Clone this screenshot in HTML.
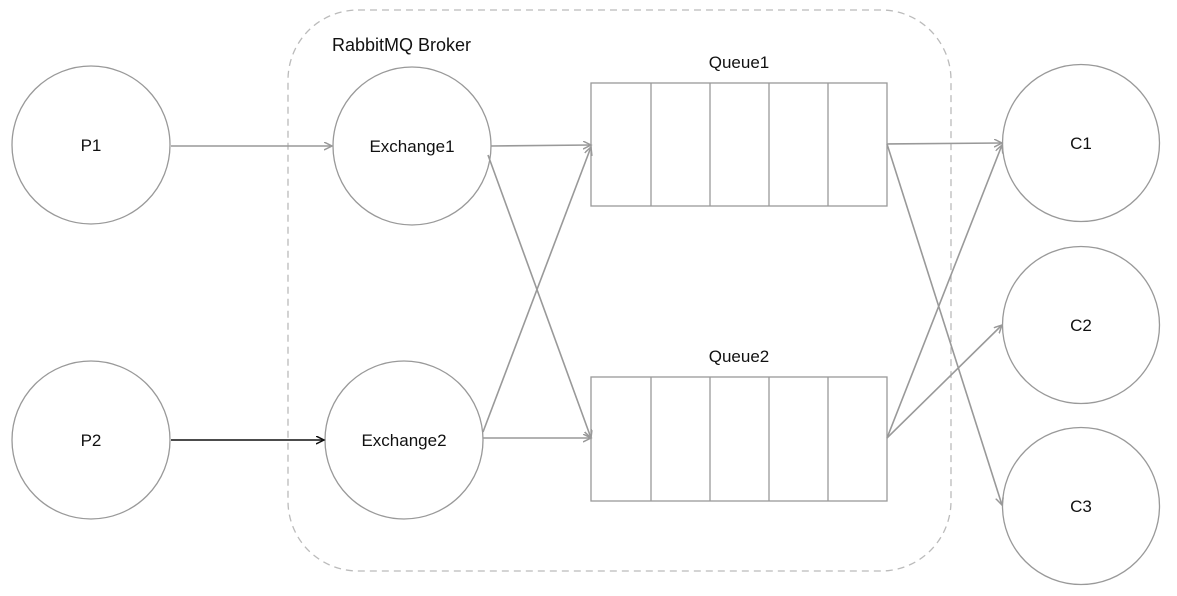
<!DOCTYPE html>
<html><head><style>
html,body{margin:0;padding:0;background:#fff;}
svg{display:block;}
text{font-family:"Liberation Sans","Noto Sans CJK SC",sans-serif;font-size:17px;fill:#111;}
</style></head><body>
<svg width="1177" height="596" viewBox="0 0 1177 596" xmlns="http://www.w3.org/2000/svg">
<defs>
<marker id="ag" markerWidth="10" markerHeight="10" refX="8" refY="4" orient="auto" markerUnits="userSpaceOnUse">
<path d="M0,0 L8,4 L0,8" fill="none" stroke="#999" stroke-width="1.5"/></marker>
<marker id="ab" markerWidth="10" markerHeight="10" refX="8" refY="4" orient="auto" markerUnits="userSpaceOnUse">
<path d="M0,0 L8,4 L0,8" fill="none" stroke="#111" stroke-width="1.5"/></marker>
</defs>
<rect x="288" y="10" width="663" height="561" rx="70" ry="70" fill="none" stroke="#bbb" stroke-width="1.3" stroke-dasharray="7,5"/>
<text x="332" y="51" style="font-size:18px">RabbitMQ Broker</text>
<g fill="none" stroke="#999" stroke-width="1.3">
<circle cx="91" cy="145" r="79"/>
<circle cx="91" cy="440" r="79"/>
<circle cx="412" cy="146" r="79"/>
<circle cx="404" cy="440" r="79"/>
<circle cx="1081" cy="143" r="78.5"/>
<circle cx="1081" cy="325" r="78.5"/>
<circle cx="1081" cy="506" r="78.5"/>
<rect x="591" y="83" width="296" height="123"/>
<line x1="651" y1="83" x2="651" y2="206"/><line x1="710" y1="83" x2="710" y2="206"/><line x1="769" y1="83" x2="769" y2="206"/><line x1="828" y1="83" x2="828" y2="206"/>
<rect x="591" y="377" width="296" height="124"/>
<line x1="651" y1="377" x2="651" y2="501"/><line x1="710" y1="377" x2="710" y2="501"/><line x1="769" y1="377" x2="769" y2="501"/><line x1="828" y1="377" x2="828" y2="501"/>
</g>
<g fill="none" stroke="#999" stroke-width="1.6">
<line x1="171" y1="146" x2="332" y2="146" marker-end="url(#ag)"/>
<line x1="491" y1="146" x2="591" y2="145" marker-end="url(#ag)"/>
<line x1="488" y1="155" x2="591" y2="438" marker-end="url(#ag)"/>
<line x1="483" y1="438" x2="591" y2="438" marker-end="url(#ag)"/>
<line x1="483" y1="432" x2="591" y2="147" marker-end="url(#ag)"/>
<line x1="887" y1="144" x2="1002" y2="143" marker-end="url(#ag)"/>
<line x1="887" y1="144" x2="1002" y2="505" marker-end="url(#ag)"/>
<line x1="887" y1="438" x2="1002" y2="145" marker-end="url(#ag)"/>
<line x1="887" y1="438" x2="1002" y2="325" marker-end="url(#ag)"/>
</g>
<line x1="171" y1="440" x2="324" y2="440" stroke="#111" stroke-width="1.5" marker-end="url(#ab)"/>
<g text-anchor="middle">
<text x="91" y="151">P1</text>
<text x="91" y="446">P2</text>
<text x="412" y="152">Exchange1</text>
<text x="404" y="446">Exchange2</text>
<text x="1081" y="149">C1</text>
<text x="1081" y="331">C2</text>
<text x="1081" y="512">C3</text>
<text x="739" y="68">Queue1</text>
<text x="739" y="362">Queue2</text>
</g>
</svg>
</body></html>
